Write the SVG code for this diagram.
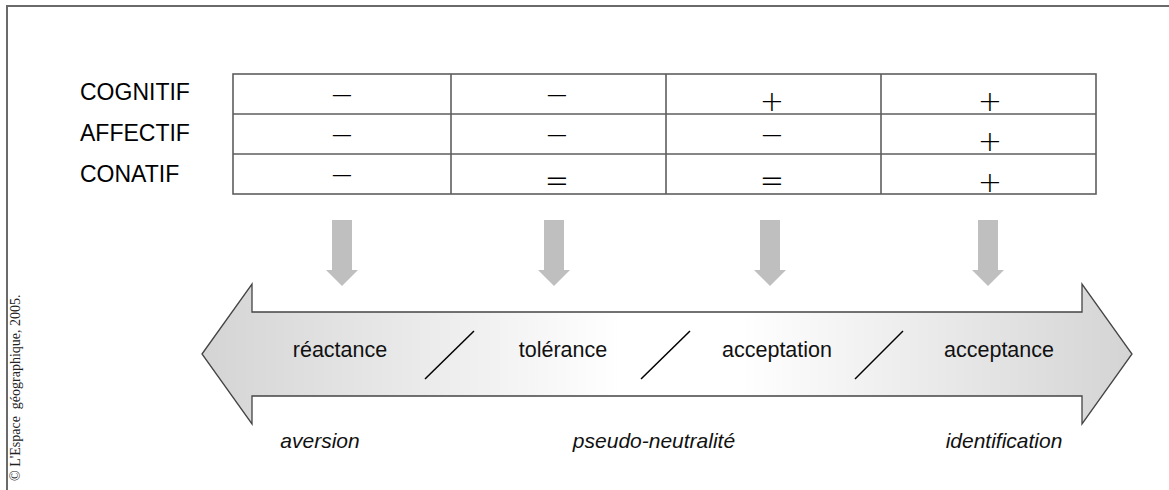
<svg xmlns="http://www.w3.org/2000/svg" width="1169" height="490" viewBox="0 0 1169 490">
<style>
.lbl{font-family:"Liberation Sans",Arial,sans-serif;font-size:23px;fill:#000}
.mid{font-family:"Liberation Sans",Arial,sans-serif;font-size:21.5px;fill:#111;text-anchor:middle}
.it{font-family:"Liberation Sans",Arial,sans-serif;font-size:21px;font-style:italic;fill:#111;text-anchor:middle}
.sym{font-family:"DejaVu Sans",sans-serif;font-weight:200;font-size:29px;fill:#000;text-anchor:middle}
.grid{stroke:#5e5e5e;stroke-width:1.6;fill:none}
.down{fill:#bfbfbf}
.slash{stroke:#000;stroke-width:1.5}
.copy{font-family:"Liberation Serif","Times New Roman",serif;font-size:14px;fill:#222;white-space:pre}
</style>
<defs>
<linearGradient id="g" x1="202" y1="0" x2="1132" y2="0" gradientUnits="userSpaceOnUse">
<stop offset="0" stop-color="#d4d4d4"/>
<stop offset="0.45" stop-color="#ffffff"/>
<stop offset="0.58" stop-color="#ffffff"/>
<stop offset="1" stop-color="#d4d4d4"/>
</linearGradient>
<path id="dn" d="M-10,0 H10 V50 H16 L0,66 L-16,50 H-10 Z"/>
</defs>
<rect width="1169" height="490" fill="#fff"/>
<path d="M7,490 V6 H1169" fill="none" stroke="#6a6a6a" stroke-width="2"/>
<text class="copy" xml:space="preserve" transform="translate(20,481) rotate(-90)">© L'Espace  géographique, 2005.</text>

<g id="table">
<rect class="grid" x="233" y="74" width="863" height="120"/>
<line class="grid" x1="233" y1="114" x2="1096" y2="114"/>
<line class="grid" x1="233" y1="154" x2="1096" y2="154"/>
<line class="grid" x1="451" y1="74" x2="451" y2="194"/>
<line class="grid" x1="666" y1="74" x2="666" y2="194"/>
<line class="grid" x1="881" y1="74" x2="881" y2="194"/>
</g>

<g id="row-labels">
<text class="lbl" x="80" y="100">COGNITIF</text>
<text class="lbl" x="80" y="141">AFFECTIF</text>
<text class="lbl" x="80" y="182">CONATIF</text>
</g>

<g id="cells">
<text class="sym" x="342" y="104.5">−</text>
<text class="sym" x="557" y="104.5">−</text>
<text class="sym" x="772" y="110.5">+</text>
<text class="sym" x="990" y="110.5">+</text>
<text class="sym" x="342" y="144.5">−</text>
<text class="sym" x="557" y="144.5">−</text>
<text class="sym" x="772" y="144.5">−</text>
<text class="sym" x="990" y="151">+</text>
<text class="sym" x="342" y="184.5">−</text>
<text class="sym" transform="translate(557,181) scale(1,1.3)" x="0" y="9.5">=</text>
<text class="sym" transform="translate(772,181) scale(1,1.3)" x="0" y="9.5">=</text>
<text class="sym" x="990" y="191.5">+</text>
</g>

<g id="connectors">
<use href="#dn" class="down" x="342" y="220"/>
<use href="#dn" class="down" x="554" y="220"/>
<use href="#dn" class="down" x="770" y="220"/>
<use href="#dn" class="down" x="988" y="220"/>
</g>

<g id="scale-arrow">
<path d="M202,354 L252,284 V312 H1082 V284 L1132,354 L1082,424 V396 H252 V424 Z" fill="url(#g)" stroke="#444" stroke-width="1.3" stroke-linejoin="miter"/>
<line class="slash" x1="425" y1="379" x2="474" y2="331"/>
<line class="slash" x1="641" y1="379" x2="690" y2="331"/>
<line class="slash" x1="855" y1="379" x2="903" y2="331"/>
</g>

<g id="reactance"><text class="mid" x="340" y="357">réactance</text></g>
<g id="tolerance"><text class="mid" x="563" y="357">tolérance</text></g>
<g id="acceptation"><text class="mid" x="777" y="357">acceptation</text></g>
<g id="acceptance"><text class="mid" x="999" y="357">acceptance</text></g>

<g id="bottom-labels">
<text class="it" x="320" y="448">aversion</text>
<text class="it" x="654" y="448">pseudo-neutralité</text>
<text class="it" x="1004" y="448">identification</text>
</g>
</svg>
